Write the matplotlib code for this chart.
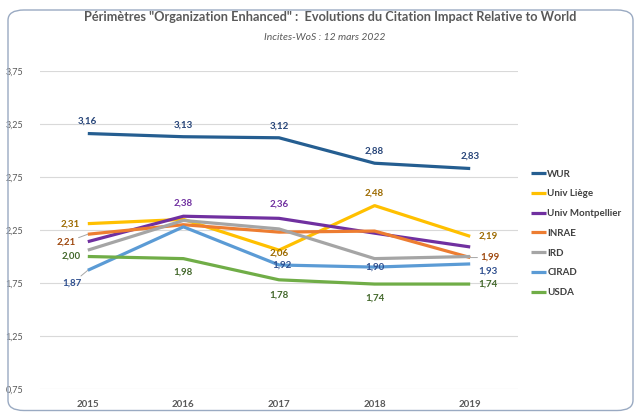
import matplotlib
matplotlib.use("Agg")
import matplotlib.pyplot as plt
from matplotlib.patches import FancyBboxPatch

plt.rcParams['font.family'] = ['Lato', 'DejaVu Sans']

years = [2015, 2016, 2017, 2018, 2019]
names = ["WUR", "Univ Liège", "Univ Montpellier", "INRAE", "IRD", "CIRAD", "USDA"]
wur = [3.16, 3.13, 3.12, 2.88, 2.83]
liege = [2.31, 2.35, 2.06, 2.48, 2.19]
montpellier = [2.14, 2.38, 2.36, 2.22, 2.09]
inrae = [2.21, 2.30, 2.23, 2.24, 1.99]
ird = [2.06, 2.34, 2.26, 1.98, 2.00]
cirad = [1.87, 2.28, 1.92, 1.90, 1.93]
usda = [2.00, 1.98, 1.78, 1.74, 1.74]
yticks = [0.75, 1.25, 1.75, 2.25, 2.75, 3.25, 3.75]

series = [wur, liege, montpellier, inrae, ird, cirad, usda]
colors = ["#255E91", "#FFC000", "#7030A0", "#ED7D31", "#A5A5A5", "#5B9BD5", "#70AD47"]
label_colors = {"WUR": "#264478", "Univ Liège": "#9C6A00", "Univ Montpellier": "#7030A0",
                "INRAE": "#9E480E", "CIRAD": "#2F4F8F", "USDA": "#43682B"}

fig = plt.figure(figsize=(6.35, 4.12), dpi=100)
ax = fig.add_axes([40 / 635, 1 - 389 / 412, 478 / 635, 318 / 412])

for name, vals, c in zip(names, series, colors):
    ax.plot(years, vals, color=c, lw=2.3, label=name, solid_capstyle='butt')

ax.set_xlim(2014.5, 2019.5)
ax.set_ylim(0.75, 3.75)
ax.set_yticks(yticks)
ax.set_yticklabels([f"{v:.2f}".replace(".", ",") for v in yticks])
ax.set_xticks(years)
ax.set_xticklabels([str(y) for y in years], fontweight='bold')
ax.tick_params(axis='y', length=0, pad=12, labelsize=6.5, labelcolor="#595959")
ax.tick_params(axis='x', length=0, pad=8, labelsize=7, labelcolor="#595959")
ax.grid(axis='y', color="#D9D9D9", lw=0.8)
ax.set_axisbelow(True)
for s in ax.spines.values():
    s.set_visible(False)


def lab(name, i, dx, dy, ha='center', leader=False):
    vals = series[names.index(name)]
    v = vals[i]
    kw = {}
    if leader:
        kw['arrowprops'] = dict(arrowstyle='-', color="#A6A6A6", lw=0.7, shrinkA=0, shrinkB=0)
    ax.annotate(f"{v:.2f}".replace(".", ","), (years[i], v), xytext=(dx, dy),
                textcoords='offset pixels', ha=ha, va='center', fontsize=7,
                fontweight='bold', color=label_colors[name], **kw)


for i in range(5):
    lab("WUR", i, 0, 12)
lab("Univ Liège", 0, -8, 0, 'right')
lab("Univ Liège", 2, 0, -3)
lab("Univ Liège", 3, 0, 12)
lab("Univ Liège", 4, 8, 0, 'left')
lab("INRAE", 0, -12, -8, 'right', leader=True)
lab("INRAE", 4, 10, 0, 'left', leader=True)
lab("Univ Montpellier", 1, 0, 13)
lab("Univ Montpellier", 2, 0, 14)
lab("CIRAD", 0, -6, -13, 'right', leader=True)
lab("CIRAD", 2, 3, 0)
lab("CIRAD", 3, 0, 0)
lab("CIRAD", 4, 8, -7, 'left')
lab("USDA", 0, -7, 0, 'right')
lab("USDA", 1, 0, -14)
lab("USDA", 2, 0, -15)
lab("USDA", 3, 0, -14)
lab("USDA", 4, 8, 0, 'left')

leg = fig.legend(loc='upper left', bbox_to_anchor=(522 / 635, 1 - 161 / 412), frameon=False,
                 fontsize=7, handlelength=1.6, handletextpad=0.1, labelspacing=1.1)
for t in leg.get_texts():
    t.set_color("#404040")
    t.set_fontweight('bold')

fig.text(330 / 635, 1 - 17 / 412,
         'Périmètres "Organization Enhanced" :  Evolutions du Citation Impact Relative to World',
         ha='center', va='center', fontsize=9.2, fontweight='bold', color="#595959")
fig.text(325 / 635, 1 - 38 / 412, "Incites-WoS : 12 mars 2022", ha='center', va='center',
         fontsize=7.5, style='italic', color="#595959")

# rounded frame around the chart area
frame = FancyBboxPatch((8 / 635, 1.5 / 412), 625 / 635, 400.5 / 412,
                       boxstyle="round,pad=0,rounding_size=0.025", transform=fig.transFigure,
                       fill=False, edgecolor="#9AAAC2", lw=1.0)
fig.patches.append(frame)

fig.savefig("out.png", dpi=100)
